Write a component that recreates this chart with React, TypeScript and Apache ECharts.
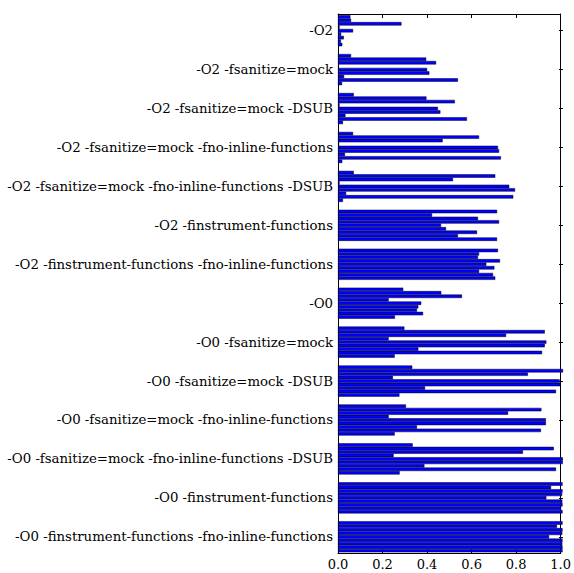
import React, { useEffect, useRef } from "react";
import * as echarts from "echarts";

const categories = [
  "-O2",
  "-O2 -fsanitize=mock",
  "-O2 -fsanitize=mock -DSUB",
  "-O2 -fsanitize=mock -fno-inline-functions",
  "-O2 -fsanitize=mock -fno-inline-functions -DSUB",
  "-O2 -finstrument-functions",
  "-O2 -finstrument-functions -fno-inline-functions",
  "-O0",
  "-O0 -fsanitize=mock",
  "-O0 -fsanitize=mock -DSUB",
  "-O0 -fsanitize=mock -fno-inline-functions",
  "-O0 -fsanitize=mock -fno-inline-functions -DSUB",
  "-O0 -finstrument-functions",
  "-O0 -finstrument-functions -fno-inline-functions",
];

// values per configuration (9 benchmark bars each), top to bottom in the group
const o2 = [0.055, 0.058, 0.282, 0.007, 0.067, 0.014, 0.026, 0.013, 0.019];
const o2San = [0.058, 0.392, 0.436, 0.004, 0.396, 0.406, 0.027, 0.533, 0.018];
const o2SanSub = [0.07, 0.393, 0.519, 0.007, 0.444, 0.455, 0.033, 0.573, 0.022];
const o2SanNoInl = [0.067, 0.627, 0.465, 0.005, 0.711, 0.716, 0.031, 0.724, 0.019];
const o2SanNoInlSub = [0.07, 0.699, 0.511, 0.007, 0.761, 0.787, 0.036, 0.779, 0.022];
const o2Instr = [0.707, 0.418, 0.622, 0.716, 0.458, 0.48, 0.618, 0.533, 0.707];
const o2InstrNoInl = [0.711, 0.627, 0.622, 0.72, 0.659, 0.695, 0.627, 0.689, 0.699];
const o0 = [0.29, 0.459, 0.551, 0.225, 0.37, 0.357, 0.351, 0.378, 0.253];
const o0San = [0.295, 0.919, 0.747, 0.225, 0.926, 0.919, 0.357, 0.907, 0.252];
const o0SanSub = [0.33, 1.0, 0.844, 0.244, 0.985, 0.988, 0.387, 0.969, 0.273];
const o0SanNoInl = [0.302, 0.904, 0.756, 0.225, 0.924, 0.924, 0.351, 0.902, 0.252];
const o0SanNoInlSub = [0.332, 0.959, 0.822, 0.247, 0.999, 0.999, 0.384, 0.969, 0.274];
const o0Instr = [0.998, 0.947, 0.998, 0.996, 0.926, 0.997, 0.998, 0.991, 0.998];
const o0InstrNoInl = [0.998, 0.973, 0.998, 0.997, 0.938, 0.998, 0.997, 0.998, 0.998];

const groups = [
  o2, o2San, o2SanSub, o2SanNoInl, o2SanNoInlSub, o2Instr, o2InstrNoInl,
  o0, o0San, o0SanSub, o0SanNoInl, o0SanNoInlSub, o0Instr, o0InstrNoInl,
];

const xTicks = [0, 0.2, 0.4, 0.6, 0.8, 1.0];

const FONT = "'DejaVu Serif', 'Liberation Serif', serif";

export default function App() {
  const ref = useRef<HTMLDivElement>(null);
  useEffect(() => {
    document.body.style.margin = "0";
    if (!ref.current) return;
    const chart = echarts.init(ref.current, null, { renderer: "svg" });
    const nBars = groups[0].length;
    const series: any[] = [];
    for (let j = 0; j < nBars; j++) {
      series.push({
        type: "bar",
        xAxisIndex: 2,
        yAxisIndex: 2,
        data: groups.map((g) => g[j]),
        barGap: "0%",
        barCategoryGap: "20%",
        itemStyle: {
          color: "#0000ff",
          borderColor: "#000000",
          borderWidth: 0.5,
        },
        silent: true,
      });
    }
    const frameLine = { show: true, onZero: false, lineStyle: { color: "#000", width: 1 } };
    chart.setOption({
      animation: false,
      backgroundColor: "#ffffff",
      grid: [
        { left: 338, right: 11, top: 14, bottom: 20, containLabel: false },
        { left: 338, right: 11, top: 11.24, height: 545, containLabel: false },
      ],
      xAxis: [
        {
          gridIndex: 0,
          type: "value",
          position: "bottom",
          min: xTicks[0],
          max: xTicks[xTicks.length - 1],
          interval: 0.2,
          axisLine: frameLine,
          axisTick: { show: true, inside: true, length: 4, lineStyle: { color: "#000" } },
          axisLabel: {
            show: true,
            formatter: (v: number) => v.toFixed(1),
            fontFamily: FONT,
            fontSize: 13,
            color: "#000",
            margin: 5,
          },
          splitLine: { show: false },
        },
        {
          gridIndex: 0,
          type: "value",
          position: "top",
          min: 0,
          max: 1,
          interval: 0.2,
          axisLine: frameLine,
          axisTick: { show: true, inside: true, length: 4, lineStyle: { color: "#000" } },
          axisLabel: { show: false },
          splitLine: { show: false },
        },
        {
          gridIndex: 1,
          type: "value",
          min: 0,
          max: 1,
          show: false,
        },
      ],
      yAxis: [
        {
          gridIndex: 0,
          type: "value",
          position: "left",
          min: 0,
          max: 1,
          axisLine: frameLine,
          axisTick: { show: false },
          axisLabel: { show: false },
          splitLine: { show: false },
        },
        {
          gridIndex: 0,
          type: "value",
          position: "right",
          min: 0,
          max: 1,
          axisLine: frameLine,
          axisTick: { show: false },
          axisLabel: { show: false },
          splitLine: { show: false },
        },
        {
          gridIndex: 1,
          type: "category",
          position: "left",
          inverse: true,
          data: categories,
          axisLine: { show: false },
          axisTick: { show: true, inside: true, alignWithLabel: true, length: 4, lineStyle: { color: "#000" } },
          axisLabel: {
            show: true,
            interval: 0,
            fontFamily: FONT,
            fontSize: 13.3,
            color: "#000",
            margin: 5,
          },
          splitLine: { show: false },
        },
        {
          gridIndex: 1,
          type: "category",
          position: "right",
          inverse: true,
          data: categories,
          axisLine: { show: false },
          axisTick: { show: true, inside: true, alignWithLabel: true, length: 4, lineStyle: { color: "#000" } },
          axisLabel: { show: false },
          splitLine: { show: false },
        },
      ],
      series,
    });
    return () => chart.dispose();
  }, []);
  return <div ref={ref} style={{ width: 574, height: 573 }} />;
}
